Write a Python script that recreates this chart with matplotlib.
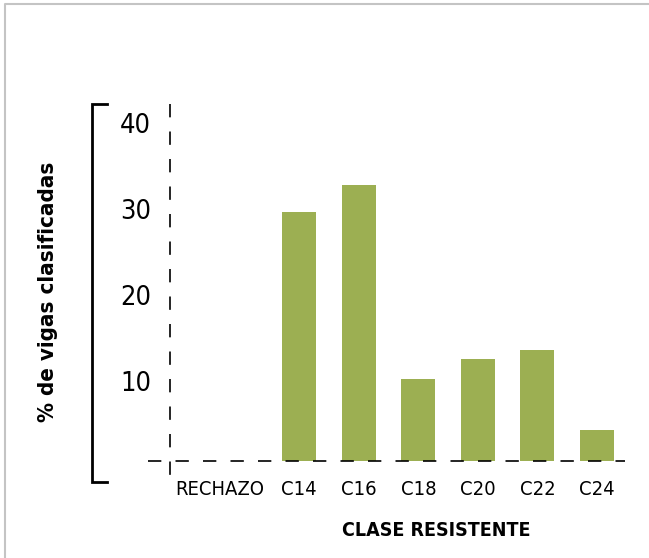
import matplotlib
matplotlib.use("Agg")
import matplotlib.pyplot as plt
import matplotlib.transforms as mtransforms
from matplotlib.lines import Line2D

clases = ["RECHAZO", "C14", "C16", "C18", "C20", "C22", "C24"]
porcentajes = [0, 29.7, 32.8, 10.2, 12.6, 13.6, 4.3]
yticks = [10, 20, 30, 40]

plt.rcParams['font.family'] = ['DejaVu Sans']
plt.rcParams['font.stretch'] = 'condensed'

W, H = 649, 558
fig = plt.figure(figsize=(W / 100, H / 100), dpi=100)

def fx(px):
    return px / W

def fy(py):
    return 1 - py / H

guion = (0, (8, 8.5))

# ejes en pixeles: izq 148, der 625, arriba 104, abajo 461
ax = fig.add_axes([fx(148), fy(461), fx(625) - fx(148), fy(104) - fy(461)])
x = list(range(len(clases)))
ax.bar(x, porcentajes, width=0.57, color='#9caf52', zorder=1)
ax.set_xlim(-1.54, 6.47)
ax.set_ylim(0.7, 42.2)
for s in ax.spines.values():
    s.set_visible(False)

ax.axhline(0.7, color='black', lw=1.2, ls=guion, zorder=3, clip_on=False)

ax.set_xticks(x)
ax.set_xticklabels(clases, fontsize=14.5, fontstretch='condensed')
ax.tick_params(axis='x', length=0, pad=14)
# RECHAZO esta un poco desplazado a la izquierda
lbl0 = ax.get_xticklabels()[0]
lbl0.set_transform(lbl0.get_transform() + mtransforms.ScaledTranslation(-0.20, 0, fig.dpi_scale_trans))

ax.set_yticks(yticks)
ax.set_yticklabels([str(v) for v in yticks], fontsize=19.5, fontstretch='condensed')
ax.tick_params(axis='y', length=0, pad=0)
for t in ax.get_yticklabels():
    t.set_horizontalalignment('right')
    t.set_transform(mtransforms.blended_transform_factory(fig.transFigure, ax.transData))
    t.set_x(fx(151))

# linea vertical discontinua
fig.add_artist(Line2D([fx(170), fx(170)], [fy(104), fy(478)], color='black', lw=1.2, ls=guion))

# corchete del eje y
fig.add_artist(Line2D([fx(107), fx(92), fx(92), fx(107)], [fy(104), fy(104), fy(482), fy(482)],
                      color='black', lw=2, solid_joinstyle='miter'))

fig.text(fx(48), fy(292), "% de vigas clasificadas", rotation=90, ha='center', va='center',
         fontsize=16, fontweight='heavy', fontstretch='condensed')
fig.text(fx(436), fy(531), "CLASE RESISTENTE", ha='center', va='center',
         fontsize=14, fontweight='heavy', fontstretch='condensed')

# marco gris
fig.add_artist(Line2D([fx(5), fx(5), 1], [0, fy(4), fy(4)], color='#c4c4c4', lw=1.5))

fig.savefig("out.png", dpi=100)
